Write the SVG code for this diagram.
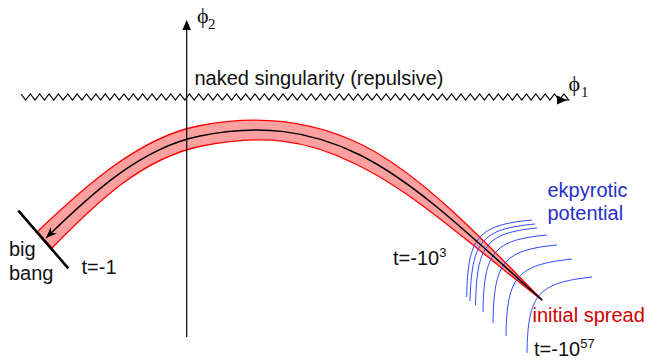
<svg xmlns="http://www.w3.org/2000/svg" width="660" height="360" viewBox="0 0 660 360">
<style>
  .lbl { font-family: "Liberation Sans", Arial, sans-serif; font-size: 20px; fill: #111; }
  .sup { font-family: "Liberation Sans", Arial, sans-serif; font-size: 13px; fill: #111; }
  .greek { font-family: "Liberation Serif", "Times New Roman", serif; font-size: 22px; fill: #111; }
  .sub { font-family: "Liberation Serif", "Times New Roman", serif; font-size: 15px; fill: #111; }
  .blue { fill: #1e2fc8; }
  .red { fill: #d00000; }
  .pot { fill: none; stroke: #3048ff; stroke-width: 1; }
  .axis { fill: none; stroke: #000; stroke-width: 1.2; }
</style>
<defs>
  <marker id="ah" markerUnits="userSpaceOnUse" markerWidth="12" markerHeight="10" refX="11" refY="4.5" orient="auto-start-reverse">
    <path d="M0,0 L11,4.5 L0,9 L3.5,4.5 Z" fill="#000"/>
  </marker>
</defs>
<rect width="660" height="360" fill="#fff"/>

<g id="trajectory-band">
  <path d="M37,232 C83,188 138,138 198,126 C258,114 314.5,121 364.5,146 C424,177 484,240.5 542,300 C476,249.5 416,193 355.5,164 C305.5,139 262,134 202,146 C142,158 97,202 52,248 Z" fill="#ffa0a0" stroke="#ff0000" stroke-width="1.3" stroke-linejoin="round"/>
</g>

<g id="ekpyrotic-potential">
  <path class="pot" d="M466.7,297 C467.8,236.65 477.6,225.1 532,220"/>
  <path class="pot" d="M470,301 C471.7,240.65 481.45,229.1 535,224"/>
  <path class="pot" d="M475.5,305 C476.8,244.65 486,233.1 537,228"/>
  <path class="pot" d="M483,312 C483.85,251.65 493.45,240.1 547,235"/>
  <path class="pot" d="M493,323 C493.85,261.8 503.45,250.1 557,245"/>
  <path class="pot" d="M506,336 C506.85,276.5 516.75,264.95 572,259"/>
  <path class="pot" d="M527,353 C527.85,294.35 537.6,282.95 592,277"/>
</g>

<g id="connectors">
  <path id="trajectory" d="M46,238 C90,195 140,148 200,136 C260,124 310,130 360,155 C420,185 480,245 542,300" fill="none" stroke="#000" stroke-width="1.5" marker-start="url(#ah)"/>
  <g id="phi2-axis">
    <line class="axis" x1="186.7" y1="337" x2="186.7" y2="28"/>
    <polygon points="186.7,20 182.4,30 191,30" fill="#000"/>
  </g>
  <g id="phi1-axis">
    <path class="axis" stroke-width="1" stroke-linejoin="miter" d="M21,94 l4.68,6 4.68,-6 4.68,6 4.68,-6 4.68,6 4.68,-6 4.68,6 4.68,-6 4.68,6 4.68,-6 4.68,6 4.68,-6 4.68,6 4.68,-6 4.68,6 4.68,-6 4.68,6 4.68,-6 4.68,6 4.68,-6 4.68,6 4.68,-6 4.68,6 4.68,-6 4.68,6 4.68,-6 4.68,6 4.68,-6 4.68,6 4.68,-6 4.68,6 4.68,-6 4.68,6 4.68,-6 4.68,6 4.68,-6 4.68,6 4.68,-6 4.68,6 4.68,-6 4.68,6 4.68,-6 4.68,6 4.68,-6 4.68,6 4.68,-6 4.68,6 4.68,-6 4.68,6 4.68,-6 4.68,6 4.68,-6 4.68,6 4.68,-6 4.68,6 4.68,-6 4.68,6 4.68,-6 4.68,6 4.68,-6 4.68,6 4.68,-6 4.68,6 4.68,-6 4.68,6 4.68,-6 4.68,6 4.68,-6 4.68,6 4.68,-6 4.68,6 4.68,-6 4.68,6 4.68,-6 4.68,6 4.68,-6 4.68,6 4.68,-6 4.68,6 4.68,-6 4.68,6 4.68,-6 4.68,6 4.68,-6 4.68,6 4.68,-6 4.68,6 4.68,-6 4.68,6 4.68,-6 4.68,6 4.68,-6 4.68,6 4.68,-6 4.68,6 4.68,-6 4.68,6 4.68,-6 4.68,6 4.68,-6 4.68,6 4.68,-6 4.68,6 4.68,-6 4.68,6 4.68,-6 4.68,6 4.68,-6 4.68,6 4.68,-6 4.68,6 4.68,-6 4.68,6 4.68,-6 4.68,6 4.68,-6 4.68,6 L559,100"/>
    <polygon points="567,100 557,95.5 557,104.5" fill="#000"/>
  </g>
</g>

<g id="bigbang">
  <line x1="18.3" y1="210.7" x2="68.3" y2="268.3" stroke="#000" stroke-width="2.6"/>
</g>

<g id="labels">
  <text class="greek" x="197" y="23">ϕ<tspan class="sub" x="208" y="29">2</tspan></text>
  <text class="greek" x="568.5" y="91">ϕ<tspan class="sub" x="581" y="97">1</tspan></text>
  <text class="lbl" x="194.5" y="85">naked singularity (repulsive)</text>
  <text class="lbl" x="9" y="256">big</text>
  <text class="lbl" x="9" y="279.5">bang</text>
  <text class="lbl" x="81.5" y="274">t=-1</text>
  <text class="lbl" x="393" y="265">t=-10<tspan class="sup" dy="-8.5">3</tspan></text>
  <text class="lbl blue" x="547.5" y="197">ekpyrotic</text>
  <text class="lbl blue" x="547.5" y="220">potential</text>
  <text class="lbl red" x="532.5" y="322">initial spread</text>
  <text class="lbl" x="534" y="356">t=-10<tspan class="sup" dy="-8.5">57</tspan></text>
</g>
</svg>
